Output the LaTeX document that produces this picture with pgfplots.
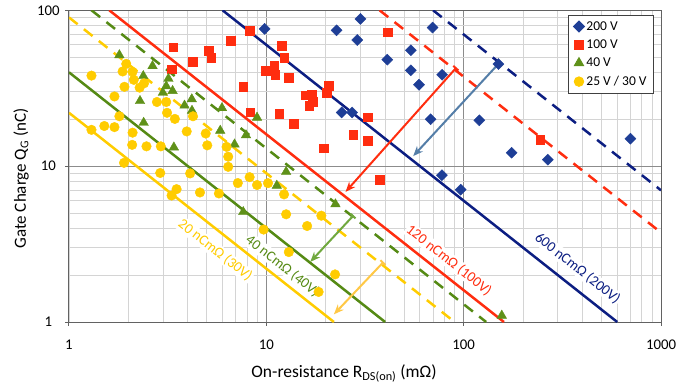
\documentclass[border=0pt]{standalone}
\usepackage{pgfplots}
\pgfplotsset{compat=1.18}
\usepackage{fontspec}
\setmainfont{Carlito}
\usetikzlibrary{arrows.meta}
\definecolor{navyL}{RGB}{12,30,130}
\definecolor{navyM}{RGB}{30,62,150}
\definecolor{redL}{RGB}{255,45,15}
\definecolor{greenL}{RGB}{85,138,20}
\definecolor{greenM}{RGB}{95,145,25}
\definecolor{yellowL}{RGB}{255,204,0}
\definecolor{steel}{RGB}{84,126,168}
\definecolor{greenA}{RGB}{112,168,62}
\definecolor{yellowA}{RGB}{255,200,70}
\definecolor{gridmaj}{RGB}{140,140,140}
\definecolor{gridmin}{RGB}{212,212,212}
\begin{document}
\begin{tikzpicture}
\path[use as bounding box] (-69pt,-66pt) rectangle (622pt,322pt);
\begin{axis}[
  at={(0pt,0pt)}, anchor=south west,
  scale only axis, width=592pt, height=311.7pt,
  xmode=log, ymode=log,
  xmin=1, xmax=1000, ymin=1, ymax=100,
  xtick={1,10,100,1000}, xticklabels={1,10,100,1000},
  ytick={1,10,100}, yticklabels={1,10,100},
  grid=both,
  major grid style={draw=gridmaj, line width=1pt},
  minor grid style={draw=gridmin, line width=0.9pt},
  axis line style={draw=gridmaj!70!black, line width=1pt},
  tick pos=left, tick align=outside, major tick length=4pt, minor tick length=0pt,
  tick style={draw=gridmaj!70!black, line width=1pt},
  /pgf/number format/assume math mode=true,
  ticklabel style={font=\fontsize{14.8}{17}\selectfont},
  xticklabel style={yshift=-10pt},
  yticklabel style={text width=24pt, align=center, xshift=-1pt},
  clip mode=individual,
  legend cell align=left,
  legend style={at={(1,1)}, anchor=north east, xshift=-7pt, yshift=-4.7pt,
    draw=black!75, line width=0.8pt, fill=white,
    font=\fontsize{13.5}{15}\selectfont, row sep=4pt, inner xsep=5pt, inner ysep=4pt},
  legend image code/.code={\draw[#1] plot coordinates {(4pt,0pt)};},
]
% lines
\addplot[navyL, line width=2.5pt, forget plot] coordinates {(6,100) (600,1)};
\addplot[navyL, line width=2.5pt, dash pattern=on 11pt off 8pt, forget plot] coordinates {(70,100) (1000,7)};
\addplot[redL, line width=2.5pt, forget plot] coordinates {(1.6,100) (160,1)};
\addplot[redL, line width=2.5pt, dash pattern=on 11pt off 8pt, forget plot] coordinates {(37.5,100) (1000,3.75)};
\addplot[greenL, line width=2.5pt, forget plot] coordinates {(1,40) (40,1)};
\addplot[greenL, line width=2.5pt, dash pattern=on 11pt off 8pt, forget plot] coordinates {(1.3,100) (130,1)};
\addplot[yellowL, line width=2.5pt, forget plot] coordinates {(1,22) (22,1)};
\addplot[yellowL, line width=2.5pt, dash pattern=on 11pt off 8pt, forget plot] coordinates {(1,90) (90,1)};
% labels
\node[rotate=-38.3, fill=white, inner sep=1pt, text=navyL, font=\fontsize{14.5}{16}\selectfont] at (axis cs:378,2.21) {600 nCmΩ (200V)};
\node[rotate=-38.3, fill=white, inner sep=1pt, text=redL, font=\fontsize{14.5}{16}\selectfont] at (axis cs:84.2,2.49) {120 nCmΩ (100V)};
\node[rotate=-38.3, fill=white, inner sep=1pt, text=greenL, font=\fontsize{14.5}{16}\selectfont] at (axis cs:12.1,2.29) {40 nCmΩ (40V)};
\node[rotate=-38.3, fill=white, inner sep=1pt, text=yellowL, font=\fontsize{14.5}{16}\selectfont] at (axis cs:5.51,2.89) {20 nCmΩ (30V)};
% arrows
\draw[steel, line width=2pt, -{Stealth[length=10pt,width=8pt]}] (axis cs:150,45.3) -- (axis cs:55.5,11.6);
\draw[redL, line width=2pt, {Bar[width=7pt]}-{Stealth[length=10pt,width=8pt]}] (axis cs:92,43) -- (axis cs:25.2,6.84);
\draw[greenA, line width=2pt, {Bar[width=7pt]}-{Stealth[length=10pt,width=8pt]}] (axis cs:27.7,4.84) -- (axis cs:16.7,2.43);
\draw[yellowA, line width=2pt, {Bar[width=7pt]}-{Stealth[length=10pt,width=8pt]}] (axis cs:39.3,2.43) -- (axis cs:22,1.12);
% markers
\addplot[only marks, mark=square*, mark size=3.9pt, mark options={rotate=45, draw=navyM, fill=navyM}] coordinates {
(9.8,76) (22.7,74.4) (30,88) (28.9,64.5) (41,48.2) (54,55.4) (54,41.2) (59.4,33.3) (69.6,77.5) (77.8,38.6) (24.1,22.1) (27.2,22.1) (68,20) (120,19.7) (77.6,8.75) (96.6,7.06) (150,45.2) (175,12.2) (267,11) (700,15)};
\addlegendentry{200 V}
\addplot[only marks, mark=square*, mark size=4.3pt, mark options={draw=redL, fill=redL}] coordinates {
(3.38,58.1) (3.31,42) (4.23,46.6) (5.09,55.2) (5.26,49.5) (6.6,63.7) (8.23,74) (11.95,59.2) (12.3,49.6) (9.94,41.1) (10.96,44.1) (11.1,38.6) (13,36.9) (7.62,32.3) (8.29,22.2) (11.6,21.8) (13.8,18.7) (15.8,28.5) (17,28.7) (16.5,24.4) (17.2,25.9) (20.7,32.9) (20.2,29.6) (32.6,20.6) (27.6,15.9) (32.6,14.6) (19.5,13) (41.1,72.2) (37.6,8.2) (244,14.8)};
\addlegendentry{100 V}
\addplot[only marks, mark=triangle*, mark size=5.5pt, mark options={draw=greenM, fill=greenM}] coordinates {
(1.8,51.6) (2.65,43.9) (2.38,37.9) (3.19,36.4) (3.11,32.6) (3.35,30.4) (2.99,29.6) (4.19,26.9) (2.29,26.2) (3.85,24.5) (4.2,22.7) (5.96,23.6) (2.39,19) (3.4,13.2) (5.84,16.9) (8.97,20.5) (7.89,15.8) (6.9,13.8) (12.6,9.2) (11.3,7.5) (7.64,5.08) (22.4,5.7) (156,1.1)};
\addlegendentry{40 V}
\addplot[only marks, mark=*, mark size=4.8pt, mark options={draw=yellowL, fill=yellowL}] coordinates {
(1.3,38.1) (1.95,45.3) (1.87,40.5) (2.1,40.3) (2.13,35.8) (2.4,34) (2.28,31.9) (1.91,32.3) (1.7,28) (2.79,25.8) (3.11,25.8) (3.14,22) (3.44,20.1) (1.8,20.9) (1.51,18.1) (1.7,17.8) (1.3,17.1) (2.1,16.4) (2.09,13.7) (2.47,13.4) (2.92,13.4) (3.95,16.7) (4.25,20.9) (4.93,16.2) (5.02,13.6) (1.9,10.5) (2.9,9.04) (4.11,8.98) (3.31,6.48) (3.51,7.12) (4.61,6.78) (5.75,6.68) (6.29,13.3) (6.41,11.5) (6.41,9.9) (7.17,7.79) (8.23,8.5) (8.97,7.57) (10.2,7.78) (12.3,6.59) (12.6,4.91) (16.1,4.13) (19,4.81) (9.69,3.92) (13,2.81) (22.3,2.02) (18.4,1.56)};
\addlegendentry{25 V / 30 V}
\end{axis}
\node[rotate=90, font=\fontsize{17}{19}\selectfont] at (-48pt,143.5pt) {Gate Charge Q\textsubscript{G} (nC)};
\node[font=\fontsize{17.5}{19}\selectfont] at (275pt,-51pt) {On-resistance R\textsubscript{DS(on)} (mΩ)};
\end{tikzpicture}
\end{document}
